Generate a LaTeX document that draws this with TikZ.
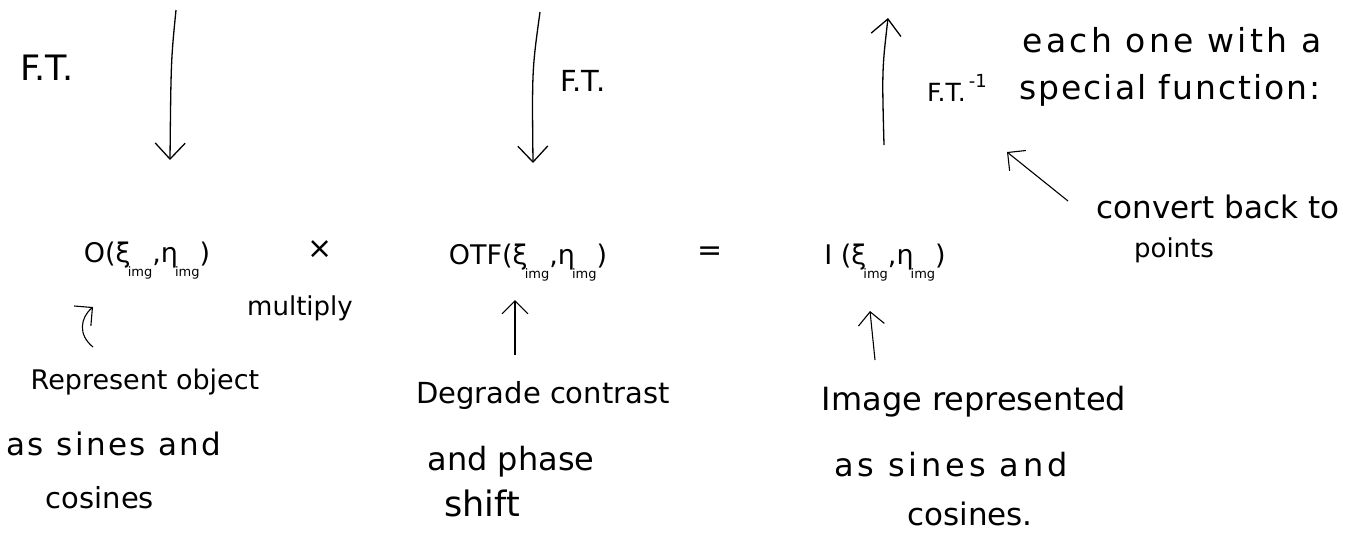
\documentclass[tikz,border=0pt]{standalone}
\usepackage{fontspec}
\setmainfont{DejaVu Sans}
\usetikzlibrary{arrows.meta}
\newcommand{\fs}[1]{\fontsize{#1}{#1}\selectfont}
\newcommand{\lsub}[1]{\kern-3pt\raisebox{-14pt}{\fs{13}#1}}
\newcommand{\ls}[1]{\addfontfeature{LetterSpace=#1}}
\begin{document}
\begin{tikzpicture}[x=1pt,y=-1pt,
  txt/.style={inner sep=0pt, anchor=center},
  eq/.style={font=\fs{27}, inner sep=0pt, anchor=base},
  bigarrow/.style={-{Straight Barb[length=16pt,width=30pt]}, line width=1.3pt},
  smallarrow/.style={-{Straight Barb[length=13pt,width=26pt]}, line width=1.1pt}]
\useasboundingbox (0,0) rectangle (1356,539);

% top arrows
\coordinate (a1s) at (176,10);
\coordinate (a1e) at (170,160);
\draw[bigarrow] (a1s) .. controls (171,60) .. (a1e);
\node[txt, font=\fs{35}] (ft1) at (47,68) {F.T.};

\coordinate (a2s) at (540,12);
\coordinate (a2e) at (533,163);
\draw[bigarrow] (a2s) .. controls (532,70) .. (a2e);
\node[txt, font=\fs{29}] (ft2) at (583,81) {F.T.};

\coordinate (a3s) at (884,145);
\coordinate (a3e) at (888,18);
\draw[bigarrow] (a3s) .. controls (882,70) .. (a3e);
\node[txt, font=\fs{25}, anchor=base west] (ft3) at (927,101) {F.T.\raisebox{14pt}{\fs{18}\,-1}};

\node[txt, font=\fs{33}\ls{10}] (note1) at (1172,40) {each one with a};
\node[txt, font=\fs{33}\ls{6}] (note2) at (1170,90) {special function:};

% equation row
\node[eq] (obj) at (147,262) {O(ξ\lsub{img},η\lsub{img})};
\node[txt, font=\fs{30}] (times) at (320,250) {×};
\node[txt, font=\fs{26}] (mult) at (300,308) {multiply};
\node[eq] (otf) at (528,264) {OTF(ξ\lsub{img},η\lsub{img})};
\node[txt, font=\fs{30}] (equals) at (710,254) {=};
\node[eq] (img) at (885,264) {I (ξ\lsub{img},η\lsub{img})};

\node[txt, font=\fs{31}] (conv) at (1218,207) {convert back to};
\node[txt, font=\fs{26}] (pts) at (1174,250) {points};
\coordinate (cvs) at (1068,201);
\coordinate (cve) at (1007,152);
\draw[smallarrow] (cvs) -- (cve);

% descriptions
\node[txt, font=\fs{27}] (d1a) at (145,382) {Represent object};
\node[txt, font=\fs{31}\ls{8}] (d1b) at (114,444) {as sines and};
\node[txt, font=\fs{29}] (d1c) at (100,498) {cosines};

\node[txt, font=\fs{29}] (d2a) at (543,395) {Degrade contrast};
\node[txt, font=\fs{32}] (d2b) at (511,462) {and phase};
\node[txt, font=\fs{35}] (d2c) at (482,503) {shift};

\node[txt, font=\fs{32}] (d3a) at (974,402) {Image represented};
\node[txt, font=\fs{32}\ls{12}] (d3b) at (951,465) {as sines and};
\node[txt, font=\fs{31}] (d3c) at (970,514) {cosines.};

\coordinate (s1s) at (93,347);
\coordinate (s1e) at (93,307);
\draw[smallarrow] (s1s) .. controls (78,335) and (80,318) .. (s1e);
\coordinate (s2s) at (515,355);
\coordinate (s2e) at (515,300);
\draw[smallarrow] (s2s) -- (s2e);
\coordinate (s3s) at (875,360);
\coordinate (s3e) at (870,311);
\draw[smallarrow] (s3s) -- (s3e);
\end{tikzpicture}
\end{document}
